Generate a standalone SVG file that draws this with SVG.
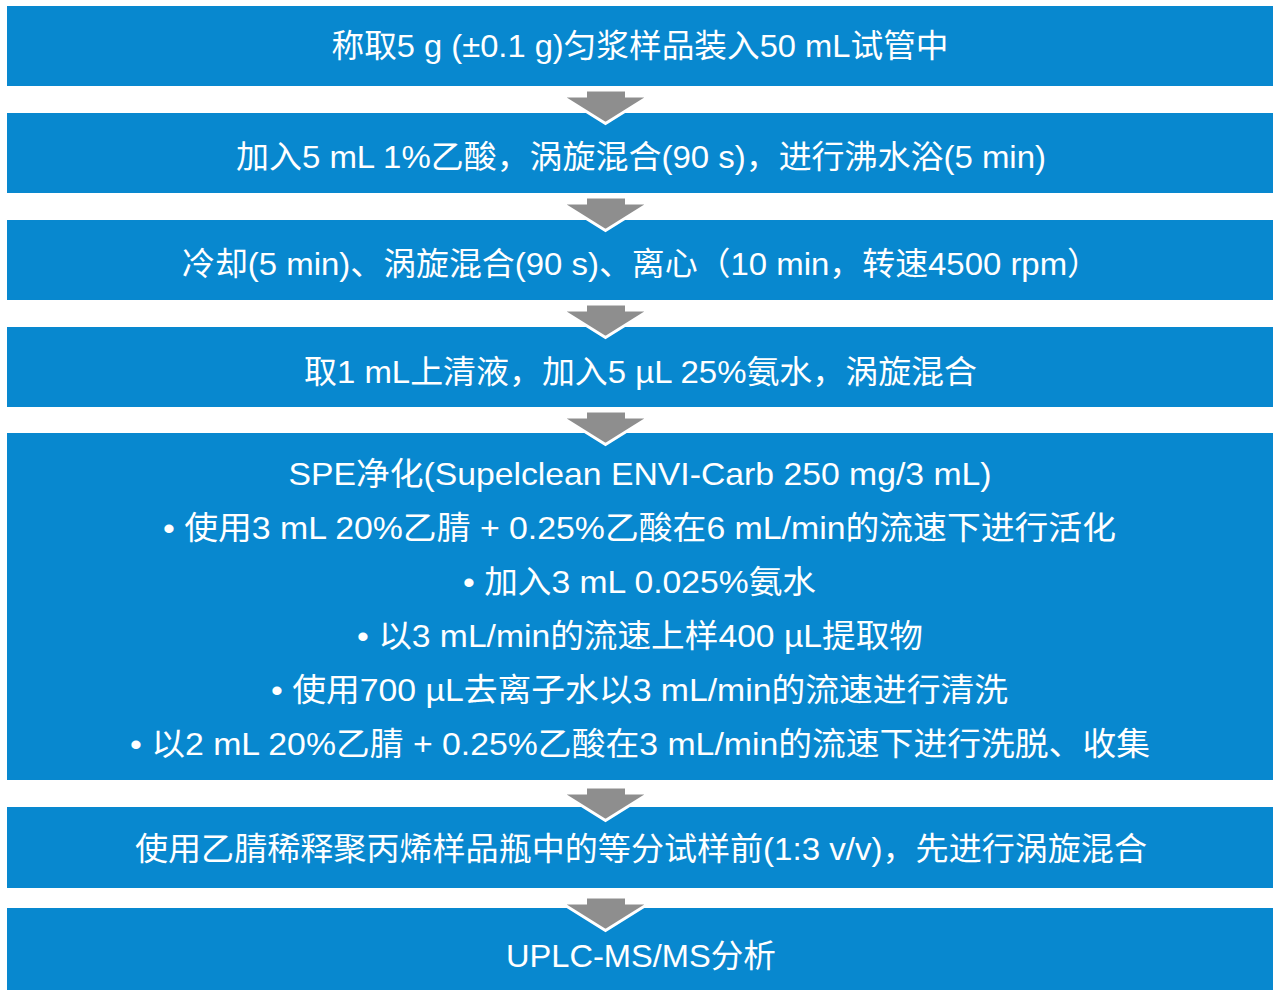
<svg xmlns="http://www.w3.org/2000/svg" width="1280" height="1000" viewBox="0 0 1280 1000">
<style>
.box{fill:#0888cf;}
.t{fill:#ffffff;font-family:"Liberation Sans","Noto Sans CJK SC",sans-serif;font-size:32px;text-anchor:middle;}
.arr{fill:#8e8e8e;stroke:#ffffff;stroke-width:3;stroke-linejoin:miter;}
</style>
<defs>
<polygon id="arrow" points="-20,0 21,0 21,6 44,6 0,33.5 -44,6 -20,6"/>
</defs>
<rect width="1280" height="1000" fill="#ffffff"/>
<g id="n1"><rect class="box" x="7" y="6" width="1266" height="80"/>
<text class="t" x="640" y="57" textLength="617" lengthAdjust="spacingAndGlyphs">称取5 g (±0.1 g)匀浆样品装入50 mL试管中</text></g>
<g id="n2"><rect class="box" x="7" y="113" width="1266" height="80"/>
<text class="t" x="641" y="168" textLength="810" lengthAdjust="spacingAndGlyphs">加入5 mL 1%乙酸，涡旋混合(90 s)，进行沸水浴(5 min)</text></g>
<g id="n3"><rect class="box" x="7" y="220" width="1266" height="80"/>
<text class="t" x="641" y="275" textLength="918" lengthAdjust="spacingAndGlyphs">冷却(5 min)、涡旋混合(90 s)、离心（10 min，转速4500 rpm）</text></g>
<g id="n4"><rect class="box" x="7" y="327" width="1266" height="80"/>
<text class="t" x="640.5" y="383" textLength="673" lengthAdjust="spacingAndGlyphs">取1 mL上清液，加入5 µL 25%氨水，涡旋混合</text></g>
<g id="n5"><rect class="box" x="7" y="433" width="1266" height="347"/>
<text class="t" x="640" y="485" textLength="703" lengthAdjust="spacingAndGlyphs">SPE净化(Supelclean ENVI-Carb 250 mg/3 mL)</text>
<text class="t" x="639.5" y="539" textLength="953" lengthAdjust="spacingAndGlyphs">• 使用3 mL 20%乙腈 + 0.25%乙酸在6 mL/min的流速下进行活化</text>
<text class="t" x="639.5" y="593" textLength="353" lengthAdjust="spacingAndGlyphs">• 加入3 mL 0.025%氨水</text>
<text class="t" x="640" y="647" textLength="566" lengthAdjust="spacingAndGlyphs">• 以3 mL/min的流速上样400 µL提取物</text>
<text class="t" x="639.5" y="701" textLength="737" lengthAdjust="spacingAndGlyphs">• 使用700 µL去离子水以3 mL/min的流速进行清洗</text>
<text class="t" x="640" y="755" textLength="1020" lengthAdjust="spacingAndGlyphs">• 以2 mL 20%乙腈 + 0.25%乙酸在3 mL/min的流速下进行洗脱、收集</text></g>
<g id="n6"><rect class="box" x="7" y="807" width="1266" height="81"/>
<text class="t" x="641" y="860" textLength="1012" lengthAdjust="spacingAndGlyphs">使用乙腈稀释聚丙烯样品瓶中的等分试样前(1:3 v/v)，先进行涡旋混合</text></g>
<g id="n7"><rect class="box" x="7" y="908" width="1266" height="82"/>
<text class="t" x="641" y="967" textLength="270" lengthAdjust="spacingAndGlyphs">UPLC-MS/MS分析</text></g>
<g id="connectors">
<use href="#arrow" class="arr" x="605.5" y="90"/>
<use href="#arrow" class="arr" x="605.5" y="197"/>
<use href="#arrow" class="arr" x="605.5" y="304"/>
<use href="#arrow" class="arr" x="605.5" y="411"/>
<use href="#arrow" class="arr" x="605.5" y="787"/>
<use href="#arrow" class="arr" x="605.5" y="897"/>
</g>
</svg>
